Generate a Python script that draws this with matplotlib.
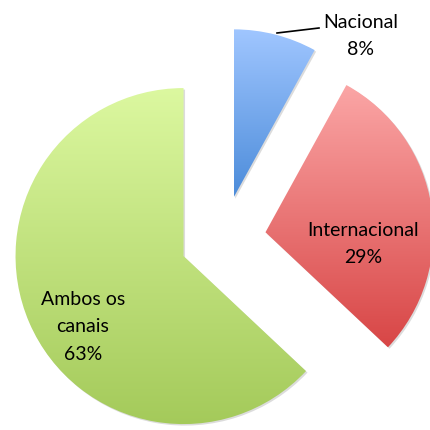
import numpy as np
import matplotlib
matplotlib.use("Agg")
import matplotlib.pyplot as plt
import matplotlib.transforms as mtransforms
from matplotlib.colors import LinearSegmentedColormap
from matplotlib.patches import PathPatch

# dados
categorias = ["Nacional", "Internacional", "Ambos os\ncanais"]
valores = [8, 29, 63]
cores_topo = ["#a0c6ff", "#fba6a6", "#dcf8a0"]
cores_base = ["#4c8cda", "#d84646", "#a4ca5a"]

plt.rcParams['font.family'] = ['Lato', 'DejaVu Sans']

fig = plt.figure(figsize=(4.31, 4.30), dpi=100)
ax = fig.add_axes([0, 0, 1, 1])

raio = 168
centro = (223, 430 - 239)
deslocamento = 43

wedges, _ = ax.pie(valores, radius=raio, center=centro, startangle=90,
                   counterclock=False, explode=[deslocamento] * len(valores),
                   wedgeprops=dict(linewidth=0), frame=True)
ax.set_xlim(0, 431)
ax.set_ylim(0, 430)
ax.set_aspect('equal')
ax.axis('off')

# preenchimento em gradiente vertical em cada fatia
grad = np.linspace(0, 1, 256).reshape(-1, 1)
for w, c0, c1 in zip(wedges, cores_topo, cores_base):
    w.set_facecolor('none')
    path = w.get_path()
    verts = path.vertices
    x0, x1 = verts[:, 0].min(), verts[:, 0].max()
    y0, y1 = verts[:, 1].min(), verts[:, 1].max()

    # sombra leve
    sp = PathPatch(path, transform=mtransforms.Affine2D().translate(1.5, -1.5) + ax.transData,
                   facecolor='#dcdcdc', edgecolor='none', zorder=1)
    ax.add_patch(sp)

    cmap = LinearSegmentedColormap.from_list('g', [c1, c0])
    im = ax.imshow(grad, extent=[x0, x1, y0, y1], cmap=cmap, origin='lower',
                   zorder=2, aspect='auto')
    im.set_clip_path(w)

ax.set_xlim(0, 431)
ax.set_ylim(0, 430)

# rótulos
txt = dict(ha='center', va='center', fontsize=14, color='black', linespacing=1.75, zorder=5)
ax.text(361, 430 - 36, f"{categorias[0]}\n{valores[0]}%", **txt)
ax.text(363, 430 - 244, f"{categorias[1]}\n{valores[1]}%", **txt)
ax.text(83, 430 - 327, f"{categorias[2]}\n{valores[2]}%", **txt)
ax.plot([277, 319], [430 - 33, 430 - 28], color='black', lw=1.2, zorder=5)

fig.savefig("out.png", dpi=100)
